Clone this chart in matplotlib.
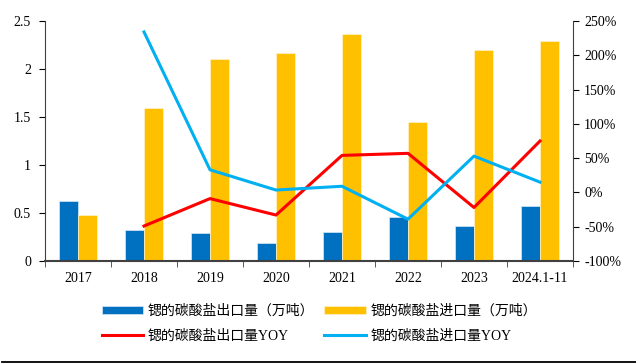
import matplotlib
matplotlib.use("Agg")
import matplotlib.pyplot as plt
from matplotlib.ticker import FuncFormatter
import numpy as np

categories = ["2017", "2018", "2019", "2020", "2021", "2022", "2023", "2024.1-11"]
export_qty = [0.62, 0.32, 0.29, 0.19, 0.30, 0.46, 0.36, 0.57]
import_qty = [0.48, 1.59, 2.10, 2.17, 2.36, 1.45, 2.20, 2.29]
export_yoy = [None, -49, -9, -33, 54, 57, -22, 75]
import_yoy = [None, 234, 33, 3.5, 9, -39, 53, 15]

label_ex = "锶的碳酸盐出口量（万吨）"
label_im = "锶的碳酸盐进口量（万吨）"
label_exy = "锶的碳酸盐出口量YOY"
label_imy = "锶的碳酸盐进口量YOY"

plt.rcParams['font.family'] = ['Liberation Serif', 'Noto Sans CJK SC', 'DejaVu Sans']

fig = plt.figure(figsize=(6.36, 3.64), dpi=100)
ax = fig.add_axes([45/636, (364-261)/364, (573-45)/636, 240/364])
ax2 = ax.twinx()

x = np.arange(len(categories))
w = 0.29
b1 = ax.bar(x - w/2, export_qty, w, color="#0070C0", edgecolor="#D9E8F5", linewidth=0.5, label=label_ex, zorder=2)
b2 = ax.bar(x + w/2, import_qty, w, color="#FFC000", edgecolor="#FFF2CC", linewidth=0.5, label=label_im, zorder=2)

ex_y = np.array([np.nan if v is None else v for v in export_yoy], dtype=float)
im_y = np.array([np.nan if v is None else v for v in import_yoy], dtype=float)
l1, = ax2.plot(x, ex_y, color="#FF0000", lw=2.2, label=label_exy, zorder=3)
l2, = ax2.plot(x, im_y, color="#00B0F0", lw=2.2, label=label_imy, zorder=3)

ax.set_xlim(-0.5, len(categories) - 0.5)
ax.set_ylim(0, 2.5)
ax.set_yticks([0, 0.5, 1, 1.5, 2, 2.5])
ax.yaxis.set_major_formatter(FuncFormatter(lambda v, p: ("%g" % v)))
ax2.set_ylim(-100, 250)
ax2.set_yticks(np.arange(-100, 251, 50))
ax2.yaxis.set_major_formatter(FuncFormatter(lambda v, p: "%d%%" % v))

ax.set_xticks(x)
ax.set_xticklabels(categories)
ax.set_xticks(np.arange(-0.5, len(categories), 1.0), minor=True)
ax.tick_params(axis='x', which='major', length=0, pad=8, labelsize=10)
ax.tick_params(axis='x', which='minor', length=4, direction='out', color='#404040')
ax.tick_params(axis='y', length=4, direction='out', labelsize=10, pad=6)
ax2.tick_params(axis='y', length=4, direction='out', labelsize=10, pad=4)

for a in (ax, ax2):
    a.spines['top'].set_visible(False)
ax.spines['left'].set_color('#404040')
ax.spines['left'].set_linewidth(0.8)
ax2.spines['right'].set_color('#404040')
ax2.spines['right'].set_linewidth(0.8)
ax2.spines['left'].set_visible(False)
ax.spines['bottom'].set_color('#404040')
ax.spines['bottom'].set_linewidth(1.5)
ax2.spines['bottom'].set_visible(False)
ax.spines['right'].set_visible(False)

leg = fig.legend([b1, l1, b2, l2], [label_ex, label_exy, label_im, label_imy],
                 ncol=2, loc='center', bbox_to_anchor=(0.502, 1 - 323.5/364),
                 frameon=False, fontsize=10, handlelength=3.0, handleheight=0.55,
                 columnspacing=0.75, handletextpad=0.3, labelspacing=0.8)

fig.add_artist(plt.Line2D([2/636, 1.0], [1 - 362/364, 1 - 362/364], color='black', lw=1.3, transform=fig.transFigure))

fig.savefig("out.png", dpi=100)
